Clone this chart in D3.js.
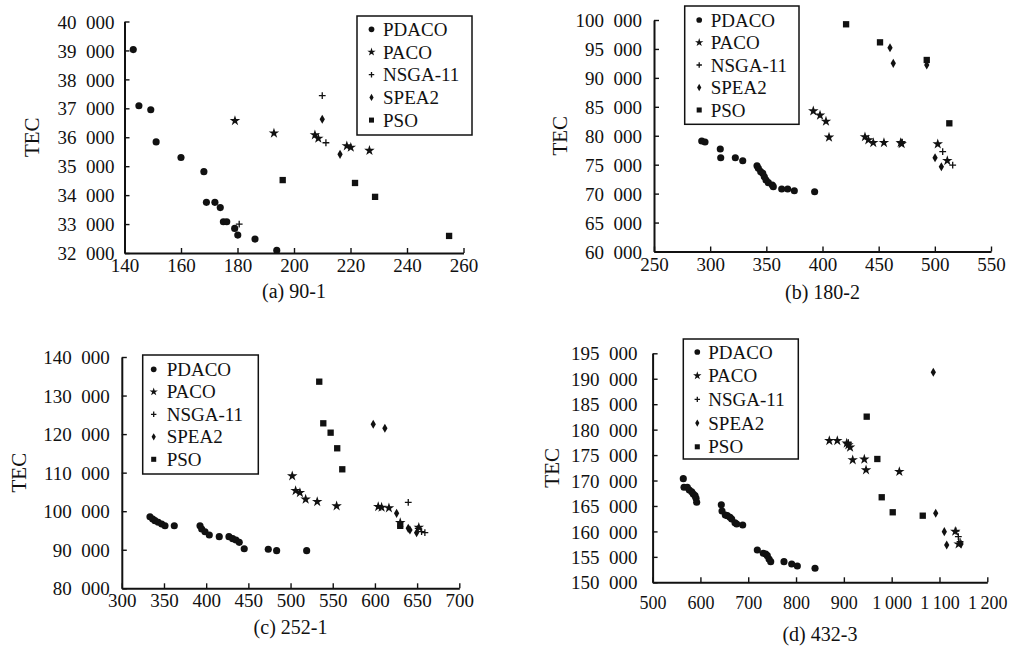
<!DOCTYPE html>
<html><head><meta charset="utf-8">
<script src="https://cdn.jsdelivr.net/npm/d3@7"></script>
<style>
body{margin:0;background:#fff}
svg{display:block}
text{font-family:"Liberation Serif","Times New Roman",serif;fill:#111}
</style>
</head><body>
<svg id="chart" width="1019" height="651"></svg>
<script>
// ---------------- DATA ----------------
const seriesNames = ["PDACO", "PACO", "NSGA-11", "SPEA2", "PSO"];
const panelCaptions = ["(a) 90-1", "(b) 180-2", "(c) 252-1", "(d) 432-3"];
const yAxisTitle = "TEC";

// (a) 90-1   [x, TEC]
const a_PDACO = [[143.1,39030],[145.1,37090],[149.3,36950],[151.2,35840],[160,35300],[168.1,34810],[169,33750],[172,33750],[173.9,33570],[175,33080],[176.2,33080],[179,32850],[180.1,32620],[186.2,32480],[193.9,32090]];
const a_PACO  = [[179.1,36570],[192.9,36140],[207.4,36080],[208.6,35960],[218.7,35700],[220.1,35650],[226.7,35540]];
const a_NSGA  = [[210,37440],[211.3,35810],[180.6,33000]];
const a_SPEA2 = [[210,36620],[216.3,35410]];
const a_PSO   = [[196,34520],[221.6,34420],[228.7,33940],[254.9,32590]];
const a_xTicks = [140,160,180,200,220,240,260];
const a_yTicks = [32000,33000,34000,35000,36000,37000,38000,39000,40000];

// (b) 180-2
const b_PDACO = [[292.5,79090],[295.4,78920],[309,77710],[309.4,76200],[322.4,76200],[329,75690],[341.7,74820],[342.9,74370],[345,73790],[346.8,73510],[348.2,72920],[349.7,72350],[351.8,71890],[355.3,71490],[356.2,71200],[363.7,70800],[369,70800],[374.9,70500],[393,70330]];
const b_PACO  = [[391.8,84270],[397.8,83530],[403.1,82490],[405.8,79730],[437.8,79800],[440.8,79270],[445.2,78800],[454.7,78800],[469.6,78800],[470.5,78600],[502.6,78570],[511.1,75690]];
const b_NSGA  = [[471,78900],[507,77240],[515.9,74940]];
const b_SPEA2 = [[460.1,95210],[463,92510],[492.8,92220],[500.2,76200],[505.8,74650]];
const b_PSO   = [[421,99260],[451.2,96140],[492.8,93090],[512.9,82150]];
const b_xTicks = [250,300,350,400,450,500,550];
const b_yTicks = [60000,65000,70000,75000,80000,85000,90000,95000,100000];

// (c) 252-1
const c_PDACO = [[333.4,98570],[336.6,97980],[339.3,97540],[343.2,97120],[347.3,96680],[351.2,96220],[362.2,96220],[392.7,96220],[394.7,95380],[398.6,94680],[403.7,93830],[415.5,93400],[427,93400],[431.4,92870],[435.3,92530],[439.2,91930],[445.1,90270],[473.6,90120],[483.5,89770],[519.1,89770]];
const c_PACO  = [[502,109130],[506,105320],[511.1,104800],[517.9,103090],[531.6,102470],[554.6,101350],[603.9,101170],[607.9,101000],[616.6,100830],[630,97000],[652,95800]];
const c_NSGA  = [[639.5,102310],[651.3,95560],[655.3,94680],[659.2,94420]];
const c_SPEA2 = [[598,122540],[611.8,121510],[625.7,99450],[639.5,95560],[641.5,95120],[649.4,94420]];
const c_PSO   = [[534,133600],[538.8,122800],[547.5,120370],[555.3,116320],[561.3,110870],[630,96200]];
const c_xTicks = [300,350,400,450,500,550,600,650,700];
const c_yTicks = [80000,90000,100000,110000,120000,130000,140000];

// (d) 432-3
const d_PDACO = [[564.2,170360],[565.7,168670],[572.6,168670],[576.8,168140],[581.8,167800],[585.1,167350],[588.7,167020],[590.8,166510],[592.2,165720],[643.7,165250],[645.2,164010],[652.1,163230],[656.2,163090],[661.9,162780],[665.4,162440],[672.3,161710],[675.9,161460],[688.4,161260],[719,156350],[731.5,155700],[736.6,155560],[739.9,155230],[743.5,154580],[747,154050],[774.8,154050],[790.9,153600],[802.7,153200],[839.7,152750]];
const d_PACO  = [[869.6,177830],[886.3,177830],[906,177320],[909.4,176980],[913,176530],[918.5,174040],[942.8,174170],[946.4,172070],[1016,171740],[1133,160000],[1140,157500]];
const d_NSGA  = [[909.4,177440],[1134.6,160080],[1139.4,158960],[1143,157980]];
const d_SPEA2 = [[1087.1,191270],[1092.1,163560],[1110.1,159950],[1115.1,157330],[1145,157530]];
const d_PSO   = [[947.8,182550],[970,174230],[979.2,166710],[1002.2,163760],[1065,163090]];
const d_xTicks = [500,600,700,800,900,1000,1100,1200];
const d_yTicks = [150000,155000,160000,165000,170000,175000,180000,185000,190000,195000];

// ---------------- LAYOUT ----------------
const panels = [
  {series:[a_PDACO,a_PACO,a_NSGA,a_SPEA2,a_PSO], xTicks:a_xTicks, yTicks:a_yTicks, caption:panelCaptions[0],
   x0:124.5, x1:463.5, yTop:21.5, yBot:253, yLabGap:10, xLabOff:12.5, xFont:19, xSep:"\u2002", titleX:32, capY:291,
   leg:{x:357,y:16,w:115,h:119,row0:29.3,dy:22.7,mx:14.5,tx:26}},
  {series:[b_PDACO,b_PACO,b_NSGA,b_SPEA2,b_PSO], xTicks:b_xTicks, yTicks:b_yTicks, caption:panelCaptions[1],
   x0:654, x1:991, yTop:20, yBot:251.5, yLabGap:12, xLabOff:12.5, xFont:19, xSep:"\u2002", titleX:560, capY:292,
   leg:{x:684.7,y:6,w:114.3,h:118.3,row0:20,dy:22.5,mx:14.5,tx:26}},
  {series:[c_PDACO,c_PACO,c_NSGA,c_SPEA2,c_PSO], xTicks:c_xTicks, yTicks:c_yTicks, caption:panelCaptions[2],
   x0:121.8, x1:459.3, yTop:357, yBot:588.3, yLabGap:12, xLabOff:12.5, xFont:19, xSep:"\u2002", titleX:19, capY:627,
   leg:{x:142.7,y:355,w:115.6,h:119,row0:369.3,dy:22.5,mx:11,tx:24}},
  {series:[d_PDACO,d_PACO,d_NSGA,d_SPEA2,d_PSO], xTicks:d_xTicks, yTicks:d_yTicks, caption:panelCaptions[3],
   x0:652.6, x1:987.3, yTop:353.3, yBot:582.3, yLabGap:15, xLabOff:20, xFont:18, xSep:"\u2009", titleX:552, capY:634,
   leg:{x:683.3,y:339,w:115,h:120,row0:352,dy:23.7,mx:14,tx:25}}
];

const svg = d3.select("#chart");
const fmtWith = sep => v => (v >= 1000 ? d3.format(",")(v).replace(/,/g, sep) : String(v));

function symbolPath(i, k) {
  if (i === 2) { const a = 3.4 * k; return `M${-a},0H${a}M0,${-a}V${a}`; }
  const types = [d3.symbolCircle, d3.symbolStar, null, d3.symbolDiamond, d3.symbolSquare];
  const sizes = [40, 34, 0, 24, 40];
  return d3.symbol().type(types[i]).size(sizes[i] * k * k)();
}
function drawMarker(g, i, cx, cy, k) {
  const p = g.append("path").attr("d", symbolPath(i, k)).attr("transform", `translate(${cx},${cy})`);
  if (i === 2) p.attr("fill", "none").attr("stroke", "#111").attr("stroke-width", 1.3);
  else p.attr("fill", "#111").attr("stroke", "none");
}

panels.forEach(P => {
  const x = d3.scaleLinear().domain([P.xTicks[0], P.xTicks[P.xTicks.length - 1]]).range([P.x0, P.x1]);
  const y = d3.scaleLinear().domain([P.yTicks[0], P.yTicks[P.yTicks.length - 1]]).range([P.yBot, P.yTop]);
  const g = svg.append("g");

  P.series.forEach((pts, i) => {
    pts.forEach(d => drawMarker(g, i, x(d[0]), y(d[1]), 1));
  });

  const ax = g.append("g").attr("transform", `translate(0,${P.yBot})`)
    .call(d3.axisBottom(x).tickValues(P.xTicks).tickSize(-5).tickSizeOuter(0).tickFormat(fmtWith(P.xSep)));
  const ay = g.append("g").attr("transform", `translate(${P.x0},0)`)
    .call(d3.axisLeft(y).tickValues(P.yTicks).tickSize(-5).tickSizeOuter(0).tickFormat(fmtWith("\u2002")));
  [ax, ay].forEach(a => {
    a.select(".domain").attr("stroke", "#111").attr("stroke-width", 2);
    a.selectAll(".tick line").attr("stroke", "#111").attr("stroke-width", 1.4);
    a.selectAll("text").attr("fill", "#111")
      .style("font-family", '"Liberation Serif","Times New Roman",serif');
  });
  ax.selectAll("text").attr("font-size", P.xFont).attr("y", P.xLabOff).attr("dy", "0.35em");
  ay.selectAll("text").attr("font-size", 19).attr("x", -P.yLabGap).attr("dy", "0.35em");

  g.append("text").attr("transform", `translate(${P.titleX},${(P.yTop + P.yBot) / 2}) rotate(-90)`)
    .attr("text-anchor", "middle").attr("dominant-baseline", "central")
    .attr("font-size", 21).text(yAxisTitle);

  g.append("text").attr("x", (P.x0 + P.x1) / 2).attr("y", P.capY)
    .attr("text-anchor", "middle").attr("dominant-baseline", "central")
    .attr("font-size", 20).text(P.caption);

  const L = P.leg;
  g.append("rect").attr("x", L.x).attr("y", L.y).attr("width", L.w).attr("height", L.h)
    .attr("fill", "#fff").attr("stroke", "#111").attr("stroke-width", 1.5);
  seriesNames.forEach((name, i) => {
    const ry = L.row0 + i * L.dy;
    drawMarker(g, i, L.x + L.mx, ry, 0.8);
    g.append("text").attr("x", L.x + L.tx).attr("y", ry).attr("dominant-baseline", "central")
      .attr("font-size", 19).attr("fill", "#222").text(name);
  });
});
</script>
</body></html>
